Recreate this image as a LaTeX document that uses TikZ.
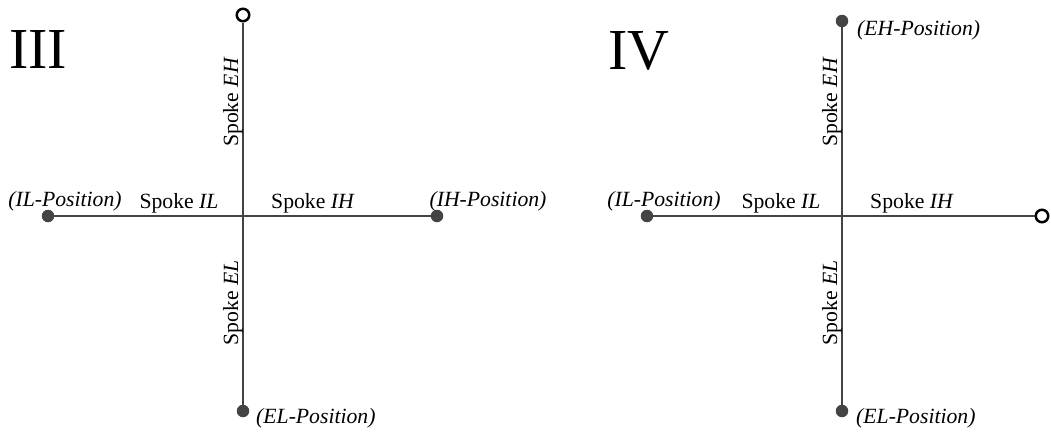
\documentclass[tikz,border=0pt]{standalone}
\usepackage{fontspec}
\setmainfont{Liberation Serif}
\definecolor{spokegray}{HTML}{444444}
\begin{document}
\begin{tikzpicture}[x=1pt,y=-1pt,
    spoke/.style={draw=spokegray,line width=2.1pt},
    dot/.style={circle,fill=spokegray,inner sep=0pt,minimum size=12.5pt},
    opendot/.style={circle,draw=black,fill=white,line width=2.5pt,inner sep=0pt,minimum size=12.5pt},
    lbl/.style={font=\fontsize{21.7}{26}\selectfont,inner sep=0pt,anchor=base},
    vlbl/.style={lbl,rotate=90},
    quad/.style={font=\fontsize{58}{60}\selectfont,inner sep=0pt}]
  \useasboundingbox (0,0) rectangle (1051,431);
  % III
  \node[quad] (iii) at (38,50) {III};
  \coordinate (c3) at (243,216);
  \node[opendot] (eh3) at (243,15) {};
  \node[dot] (el3) at (243,411) {};
  \node[dot] (il3) at (48,216) {};
  \node[dot] (ih3) at (437,216) {};
  \draw[spoke] (c3) -- (eh3);
  \draw[spoke] (c3) -- (el3);
  \draw[spoke] (c3) -- (il3);
  \draw[spoke] (c3) -- (ih3);
  \node[vlbl] (seh3) at (238,102) {Spoke \textit{EH}};
  \node[vlbl] (sel3) at (238,303) {Spoke \textit{EL}};
  \node[lbl] (sil3) at (179,208) {Spoke \textit{IL}};
  \node[lbl] (sih3) at (313,208) {Spoke \textit{IH}};
  \node[lbl] (pil3) at (65,206) {\textit{(IL-Position)}};
  \node[lbl] (pih3) at (488,206) {\textit{(IH-Position)}};
  \node[lbl,anchor=base west] (pel3) at (256,423) {\textit{(EL-Position)}};
  % IV
  \node[quad] (iv) at (639,51) {IV};
  \coordinate (c4) at (842,216);
  \node[dot] (eh4) at (842,21) {};
  \node[dot] (el4) at (842,411) {};
  \node[dot] (il4) at (647,216) {};
  \node[opendot] (ih4) at (1042,216) {};
  \draw[spoke] (c4) -- (eh4);
  \draw[spoke] (c4) -- (el4);
  \draw[spoke] (c4) -- (il4);
  \draw[spoke] (c4) -- (ih4);
  \node[vlbl] (seh4) at (837,102) {Spoke \textit{EH}};
  \node[vlbl] (sel4) at (837,303) {Spoke \textit{EL}};
  \node[lbl] (sil4) at (781,208) {Spoke \textit{IL}};
  \node[lbl] (sih4) at (912,208) {Spoke \textit{IH}};
  \node[lbl] (pil4) at (664,206) {\textit{(IL-Position)}};
  \node[lbl,anchor=base west] (peh4) at (857,35) {\textit{(EH-Position)}};
  \node[lbl,anchor=base west] (pel4) at (856,423) {\textit{(EL-Position)}};
\end{tikzpicture}
\end{document}
